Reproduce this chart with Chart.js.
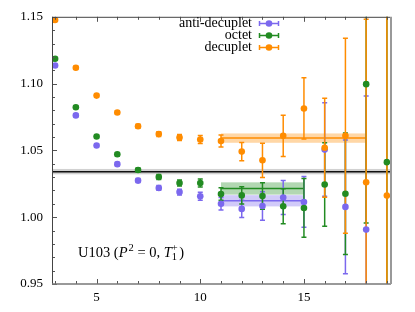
<!DOCTYPE html>
<html>
<head>
<meta charset="utf-8">
<script src="https://cdn.jsdelivr.net/npm/chart.js@4/dist/chart.umd.min.js"></script>
<style>
html,body{margin:0;padding:0;background:#fff;}
#c{display:block;}
</style>
</head>
<body>
<canvas id="c" width="415" height="312"></canvas>
<script>
// ---- data ----
const tSteps = [3,4,5,6,7,8,9,10,11,12,13,14,15,16,17,18,19];
const antiVal = [1.1136,1.0762,1.0537,1.0397,1.0274,1.0219,1.0188,1.0156,1.0101,1.0062,1.0084,1.0148,1.0114,1.0506,1.0077,0.9907,null];
const antiErr = [0.001,0.001,0.001,0.0012,0.0015,0.0018,0.0022,0.003,0.0047,0.0064,0.0107,0.0127,0.019,0.035,0.050,0.10,null];
const octVal  = [1.1186,1.0823,1.0604,1.0471,1.0353,1.0301,1.0256,1.0256,1.0173,1.0163,1.0158,1.0082,1.0069,1.0245,1.0175,1.0996,1.0412];
const octErr  = [0.001,0.001,0.001,0.0012,0.0015,0.0018,0.0022,0.003,0.0047,0.0065,0.0099,0.0131,0.022,0.0313,0.0455,0.104,0.15];
const decVal  = [1.1476,1.1119,1.0910,1.0784,1.0681,1.0622,1.0597,1.0582,1.0570,1.0491,1.0426,1.0609,1.0814,1.0520,1.0609,1.0262,1.0162];
const decErr  = [0.001,0.001,0.001,0.0012,0.0015,0.0018,0.0022,0.003,0.0045,0.0069,0.0128,0.0154,0.0229,0.037,0.073,0.122,0.25];
const seriesNames = ['anti-decuplet','octet','decuplet'];
const fitValues = [1.0123,1.0215,1.0592];
const fitErrors = [0.0042,0.0046,0.0035];
const fitStart  = [11,11,11];
const fitEnd    = [15,15,18];
const plateauValue = 1.0341;
const plateauError = 0.002;
const yTickValues = [0.95,1.00,1.05,1.10,1.15];
const xTickValues = [5,10,15];

const colors = ['#7b68ee','#228b22','#ff8c00'];
const bandColors = ['rgba(123,104,238,0.35)','rgba(34,139,34,0.35)','rgba(255,140,0,0.35)'];
const vals = [antiVal, octVal, decVal];
const errs = [antiErr, octErr, decErr];
const FONT = '"Liberation Serif", "Times New Roman", serif';

function pts(v){ return tSteps.map((t,i)=> v[i]===null ? null : {x:t, y:v[i]}).filter(p=>p); }

const plugin = {
  id:'extras',
  beforeDatasetsDraw(chart){
    const ctx = chart.ctx, a = chart.chartArea, xs = chart.scales.x, ys = chart.scales.y;
    ctx.save();
    ctx.beginPath(); ctx.rect(a.left,a.top,a.right-a.left,a.bottom-a.top); ctx.clip();
    let y1 = ys.getPixelForValue(plateauValue+plateauError), y2 = ys.getPixelForValue(plateauValue-plateauError);
    ctx.fillStyle='rgba(140,140,140,0.4)';
    ctx.fillRect(a.left,y1,a.right-a.left,y2-y1);
    ctx.strokeStyle='#111'; ctx.lineWidth=1.5;
    const yp = ys.getPixelForValue(plateauValue);
    ctx.beginPath(); ctx.moveTo(a.left,yp); ctx.lineTo(a.right,yp); ctx.stroke();
    for(let s=0;s<3;s++){
      const xa = xs.getPixelForValue(fitStart[s]), xb = xs.getPixelForValue(fitEnd[s]);
      const ya = ys.getPixelForValue(fitValues[s]+fitErrors[s]), yb = ys.getPixelForValue(fitValues[s]-fitErrors[s]);
      ctx.fillStyle = bandColors[s];
      ctx.fillRect(xa,ya,xb-xa,yb-ya);
      const yc = ys.getPixelForValue(fitValues[s]);
      ctx.strokeStyle = colors[s]; ctx.lineWidth=1.5;
      ctx.beginPath(); ctx.moveTo(xa,yc); ctx.lineTo(xb,yc); ctx.stroke();
    }
    for(let s=0;s<3;s++){
      ctx.strokeStyle = colors[s]; ctx.lineWidth=1.5;
      tSteps.forEach((t,i)=>{
        if(vals[s][i]===null) return;
        const x = xs.getPixelForValue(t);
        const yt = ys.getPixelForValue(vals[s][i]+errs[s][i]);
        const yb = ys.getPixelForValue(vals[s][i]-errs[s][i]);
        ctx.beginPath();
        ctx.moveTo(x,yt); ctx.lineTo(x,yb);
        ctx.moveTo(x-2.5,yt); ctx.lineTo(x+2.5,yt);
        ctx.moveTo(x-2.5,yb); ctx.lineTo(x+2.5,yb);
        ctx.stroke();
      });
    }
    ctx.restore();
  },
  afterDatasetsDraw(chart){
    const ctx = chart.ctx, a = chart.chartArea, xs = chart.scales.x, ys = chart.scales.y;
    ctx.save();
    ctx.strokeStyle='#555'; ctx.lineWidth=1;
    for(let v=3; v<=19; v++){
      const x = Math.round(xs.getPixelForValue(v))+0.5;
      const L = (v%5===0)?5:3;
      ctx.beginPath();
      ctx.moveTo(x,a.bottom); ctx.lineTo(x,a.bottom-L);
      ctx.moveTo(x,a.top); ctx.lineTo(x,a.top+L);
      ctx.stroke();
    }
    for(let k=95; k<=115; k++){
      const y = Math.round(ys.getPixelForValue(k/100))+0.5;
      const L = (k%5===0)?5:3;
      ctx.beginPath(); ctx.moveTo(a.left,y); ctx.lineTo(a.left+L,y); ctx.stroke();
    }
    ctx.strokeStyle='#444'; ctx.lineWidth=1;
    ctx.beginPath(); ctx.moveTo(a.left+0.5,a.top); ctx.lineTo(a.left+0.5,a.bottom); ctx.stroke();
    ctx.beginPath(); ctx.moveTo(a.left,a.top+0.5); ctx.lineTo(a.right,a.top+0.5); ctx.stroke();
    ctx.strokeStyle='#777'; ctx.lineWidth=1.5;
    ctx.beginPath(); ctx.moveTo(a.left,a.bottom); ctx.lineTo(a.right+1,a.bottom); ctx.stroke();
    ctx.strokeStyle='#999'; ctx.lineWidth=2;
    ctx.beginPath(); ctx.moveTo(a.right+1,a.top); ctx.lineTo(a.right+1,a.bottom); ctx.stroke();
    // legend
    ctx.font = '14px '+FONT; ctx.textAlign='right'; ctx.textBaseline='middle';
    const rows = [23.5,35.5,47.5];
    for(let s=0;s<3;s++){
      const y = rows[s];
      ctx.fillStyle='#000';
      ctx.fillText(seriesNames[s], 252, y);
      ctx.strokeStyle=colors[s]; ctx.lineWidth=1.5;
      ctx.beginPath();
      ctx.moveTo(259,y); ctx.lineTo(279,y);
      ctx.moveTo(259.5,y-2.5); ctx.lineTo(259.5,y+2.5);
      ctx.moveTo(278.5,y-2.5); ctx.lineTo(278.5,y+2.5);
      ctx.stroke();
      ctx.fillStyle=colors[s];
      ctx.beginPath(); ctx.arc(269,y,3.3,0,Math.PI*2); ctx.fill();
    }
    // annotation
    ctx.textAlign='left'; ctx.textBaseline='alphabetic'; ctx.fillStyle='#000';
    let x = 78; const base = 257;
    const seg = (txt, font, dy)=>{ ctx.font=font; ctx.fillText(txt,x,base+(dy||0)); x += ctx.measureText(txt).width; };
    const N = '14.5px '+FONT, I = 'italic 14.5px '+FONT, S = '10.5px '+FONT;
    seg('U103 (', N);
    seg('P', I);
    x += 1;
    seg('2', S, -6);
    seg(' = 0, ', N);
    seg('T', I);
    const xs0 = x;
    ctx.font=S; ctx.fillText('1', xs0, base+3);
    ctx.fillText('+', xs0, base-6);
    x = xs0 + ctx.measureText('+').width + 1.5;
    seg(')', N);
    ctx.restore();
  }
};

const datasets = [0,1,2].map(s=>({
  label: seriesNames[s],
  data: pts(vals[s]),
  backgroundColor: colors[s],
  borderColor: colors[s],
  pointRadius: 3.3,
  pointBorderWidth: 0,
  pointHoverRadius: 3.3,
  order: 2-s
}));

new Chart(document.getElementById('c'), {
  type:'scatter',
  data:{datasets},
  options:{
    responsive:false, animation:false, devicePixelRatio:1,
    layout:{padding:{top:13,right:25,left:0,bottom:0}},
    plugins:{legend:{display:false}, tooltip:{enabled:false}},
    scales:{
      x:{type:'linear', min:2.85, max:19.15,
        grid:{display:false, drawTicks:false, tickLength:0}, border:{display:false},
        afterBuildTicks(sc){ sc.ticks = xTickValues.map(v=>({value:v})); },
        afterFit(sc){ sc.height = 28; },
        ticks:{color:'#000', font:{family:FONT,size:13}, padding:6, maxRotation:0, callback:v=>String(v)}
      },
      y:{type:'linear', min:0.95, max:1.15,
        grid:{display:false, drawTicks:false, tickLength:0}, border:{display:false},
        afterBuildTicks(sc){ sc.ticks = yTickValues.map(v=>({value:v})); },
        afterFit(sc){ sc.width = 52; },
        ticks:{color:'#000', font:{family:FONT,size:13}, padding:9, callback:v=>Number(v).toFixed(2)}
      }
    }
  },
  plugins:[plugin]
});
</script>
</body>
</html>
